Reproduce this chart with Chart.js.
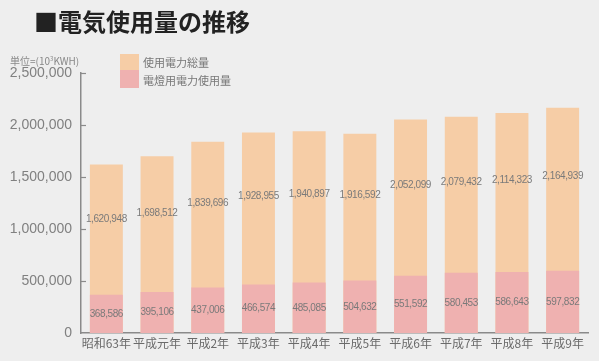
<!DOCTYPE html>
<html>
<head>
<meta charset="utf-8">
<script src="https://cdn.jsdelivr.net/npm/chart.js@4/dist/chart.umd.min.js"></script>
<style>
  html, body { margin: 0; padding: 0; background: #eeeeee; }
  #wrap { position: relative; width: 599px; height: 361px; overflow: hidden; background: #eeeeee; }
  #title { position: absolute; left: 34px; top: 3px; font: bold 24px "Noto Sans CJK JP", sans-serif; color: #222; letter-spacing: 0px; white-space: nowrap; }
  #unit { position: absolute; left: 10px; top: 53px; font: 10px "Noto Sans CJK JP", sans-serif; color: #888; white-space: nowrap; }
  #unit sup { font-size: 6px; vertical-align: 4px; }
  .lg { position: absolute; left: 120px; width: 19px; }
  .lgt { position: absolute; left: 143px; font: 11px "Noto Sans CJK JP", sans-serif; color: #777; white-space: nowrap; }
  canvas { position: absolute; left: 0; top: 0; }
</style>
</head>
<body>
<div id="wrap">
  <canvas id="c" width="599" height="361"></canvas>
  <div id="title">■電気使用量の推移</div>
  <div id="unit">単位=(10<sup>3</sup>KWH)</div>
  <div class="lg" style="top:54px;height:16px;background:#f6cda6;"></div>
  <div class="lg" style="top:70px;height:18px;background:#efb1b0;"></div>
  <div class="lgt" style="top:54px;">使用電力総量</div>
  <div class="lgt" style="top:72px;">電燈用電力使用量</div>
</div>
<script>
const categories = ['昭和63年','平成元年','平成2年','平成3年','平成4年','平成5年','平成6年','平成7年','平成8年','平成9年'];
const totalUse = [1620948,1698512,1839696,1928955,1940897,1916592,2052099,2079432,2114323,2164939];
const lightingUse = [368586,395106,437006,466574,485085,504632,551592,580453,586643,597832];
const seriesNames = ['使用電力総量','電燈用電力使用量'];

const fmt = v => Number(v).toLocaleString('en-US');

const labelPlugin = {
  id: 'barLabels',
  afterDatasetsDraw(chart) {
    const ctx = chart.ctx;
    const y = chart.scales.y;
    const meta0 = chart.getDatasetMeta(0);
    ctx.save();
    ctx.font = '10px "Liberation Sans", Arial, sans-serif';
    try { ctx.letterSpacing = '-0.4px'; } catch (e) {}
    ctx.fillStyle = '#7a7a7a';
    ctx.textAlign = 'center';
    ctx.textBaseline = 'middle';
    meta0.data.forEach((bar, i) => {
      const t = totalUse[i], l = lightingUse[i];
      const yT = y.getPixelForValue(l + 0.58 * (t - l));
      const yL = y.getPixelForValue(l / 2);
      ctx.fillText(fmt(t), bar.x, yT);
      ctx.fillText(fmt(l), bar.x, yL);
    });
    ctx.restore();
  }
};

const innerTicks = {
  id: 'innerTicks',
  afterDraw(chart) {
    const ctx = chart.ctx;
    const y = chart.scales.y;
    const x0 = chart.chartArea.left;
    ctx.save();
    ctx.strokeStyle = '#8a8a8a';
    ctx.lineWidth = 1.2;
    y.ticks.forEach(t => {
      if (t.value === 0) return;
      const py = Math.round(y.getPixelForValue(t.value)) + 0.5;
      ctx.beginPath();
      ctx.moveTo(x0, py);
      ctx.lineTo(x0 + 5, py);
      ctx.stroke();
    });
    ctx.restore();
  }
};

new Chart(document.getElementById('c'), {
  type: 'bar',
  data: {
    labels: categories,
    datasets: [
      { label: seriesNames[0], data: totalUse, backgroundColor: '#f6cda6', order: 1 },
      { label: seriesNames[1], data: lightingUse, backgroundColor: '#efb1b0', order: 0 }
    ]
  },
  options: {
    responsive: false,
    animation: false,
    devicePixelRatio: 1,
    layout: { padding: { top: 73, right: 11, left: 0, bottom: 0 } },
    datasets: { bar: { barPercentage: 0.65, categoryPercentage: 1 } },
    plugins: { legend: { display: false }, tooltip: { enabled: false } },
    scales: {
      x: {
        stacked: true,
        grid: { display: false, drawTicks: false },
        border: { display: true, color: '#8a8a8a', width: 1.5 },
        ticks: { color: '#6a6a6a', font: { family: '"Noto Sans CJK JP", sans-serif', size: 12 }, padding: 3, maxRotation: 0, autoSkip: false },
        afterFit(s) { s.height = 28; }
      },
      y: {
        stacked: false,
        min: 0, max: 2500000,
        grid: { display: false, drawTicks: false },
        border: { display: true, color: '#8a8a8a', width: 1.5 },
        ticks: { stepSize: 500000, color: '#808080', font: { family: '"Liberation Sans", Arial, sans-serif', size: 14 }, padding: 9, callback: v => fmt(v) },
        afterFit(s) { s.width = 81; }
      }
    }
  },
  plugins: [labelPlugin, innerTicks]
});
</script>
</body>
</html>
